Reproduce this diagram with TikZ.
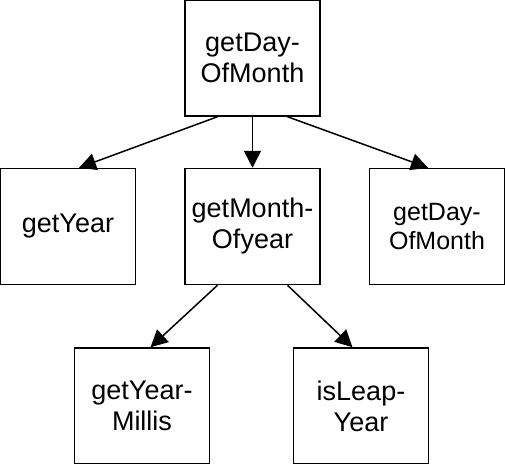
\documentclass[tikz,border=0pt]{standalone}
\usepackage{fontspec}
\setmainfont{Liberation Sans}
\usetikzlibrary{positioning,arrows.meta}

\begin{document}
\begin{tikzpicture}[x=1pt,y=-1pt,
box/.style={draw,rectangle,line width=1.5pt,minimum width=135pt,minimum height=116pt,
    inner sep=2pt,text width=128pt,align=center,font=\fontsize{27}{31}\selectfont},
link/.style={line width=1.5pt,-{Triangle[length=17pt,width=17pt]}}]
\useasboundingbox (0,0) rectangle (505,463);
\node (topday) [box] at (252.5,58) {getDay-\\OfMonth};
\node (month) [box,below=51pt of topday] {getMonth-\\Ofyear};
\node (year) [box,left=48pt of month] {getYear};
\node (rightday) [box,right=48pt of month,
    font=\fontsize{25}{29}\selectfont] {getDay-\\OfMonth};
\node (millis) [box,below=62pt of month,xshift=-110.5pt] {getYear-\\Millis};
\node (leap) [box,below=62pt of month,xshift=108.5pt] {isLeap-\\Year};
\draw [link] ([xshift=-35pt]topday.south) -- ([xshift=11pt]year.north);
\draw [link] (topday.south) -- (month.north);
\draw [link] ([xshift=35pt]topday.south) -- ([xshift=-9pt]rightday.north);
\draw [link] ([xshift=-35pt]month.south) -- ([xshift=8.5pt]millis.north);
\draw [link] ([xshift=35pt]month.south) -- ([xshift=-8.5pt]leap.north);
\end{tikzpicture}
\end{document}
